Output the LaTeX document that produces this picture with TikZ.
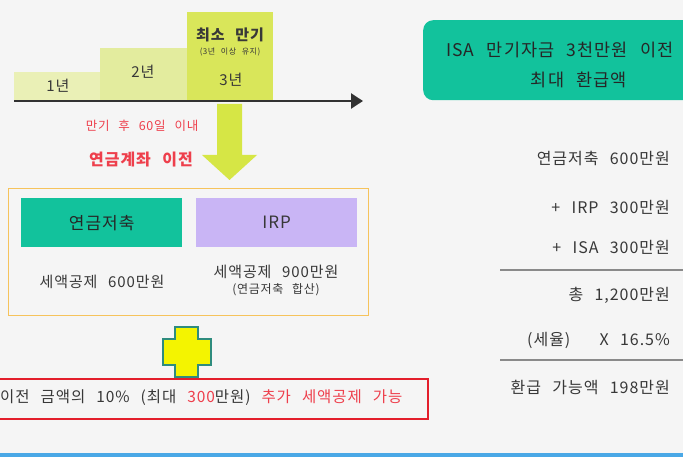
\documentclass[tikz,border=0pt]{standalone}
\usepackage{fontspec}
\setmainfont{Noto Sans CJK KR}[LetterSpace=6,WordSpace=2.5]
\usetikzlibrary{arrows.meta}
\definecolor{bg}{HTML}{F5F5F5}
\definecolor{stepA}{HTML}{EAF0B6}
\definecolor{stepB}{HTML}{E3EC9E}
\definecolor{stepC}{HTML}{D9E65A}
\definecolor{lime}{HTML}{D6E645}
\definecolor{teal}{HTML}{12C29C}
\definecolor{purp}{HTML}{C9B5F5}
\definecolor{orng}{HTML}{F6C35C}
\definecolor{redb}{HTML}{E31E2B}
\definecolor{redt}{HTML}{EE3F4C}
\definecolor{txt}{HTML}{383838}
\definecolor{gline}{HTML}{8A8A8A}
\definecolor{blu}{HTML}{4AA8E6}
\definecolor{crossY}{HTML}{F4F400}
\definecolor{crossO}{HTML}{2E8C7E}
\tikzset{
  lbl/.style={inner sep=0pt, text=txt, font=\fontsize{15}{17}\selectfont},
  stepbox/.style={inner sep=0pt, anchor=north west},
  colbox/.style={inner sep=0pt, anchor=north west, minimum width=161pt, minimum height=49pt},
  rlist/.style={inner sep=0pt, anchor=east, text=txt, font=\fontsize{16}{18}\selectfont},
}
\begin{document}
\begin{tikzpicture}[x=1pt,y=-1pt]
\useasboundingbox (0,0) rectangle (683,457);
\fill[bg] (0,0) rectangle (683,457);
\clip (0,0) rectangle (683,457);
% timeline steps
\node[stepbox, fill=stepA, minimum width=86pt, minimum height=29pt] (s1) at (14,72) {};
\node[stepbox, fill=stepB, minimum width=87pt, minimum height=53pt] (s2) at (100,48) {};
\node[stepbox, fill=stepC, minimum width=86pt, minimum height=89pt] (s3) at (187,12) {};
\node[lbl] (t1) at (58,86) {1년};
\node[lbl] (t2) at (143,72) {2년};
\node[lbl] (t3) at (231,80) {3년};
\node[lbl, font=\fontsize{15}{17}\selectfont\bfseries] (t3a) at (230,35) {최소 만기};
\node[lbl, font=\fontsize{8}{9}\selectfont] (t3b) at (230,52) {(3년 이상 유지)};
% timeline arrow
\coordinate (tl0) at (14,101);
\coordinate (tl1) at (363,101);
\draw[line width=2.6pt, draw=txt!90!black, -{Triangle[length=12pt,width=15pt]}] (tl0) -- (tl1);
% down arrow
\fill[lime] (217,104) -- (242,104) -- (242,155) -- (257,155) -- (229.5,180) -- (202,155) -- (217,155) -- cycle;
\node[lbl, text=redt, font=\fontsize{12.5}{14}\selectfont] (m1) at (142,126) {만기 후 60일 이내};
\node[lbl, text=redt, font=\fontsize{16}{18}\selectfont\bfseries] (m2) at (141,160) {연금계좌 이전};
% orange box
\node[stepbox, draw=orng, line width=1.4pt, minimum width=360pt, minimum height=127pt] (ob) at (8,188) {};
\node[colbox, fill=teal] (pb) at (21,198) {};
\node[colbox, fill=purp] (ib) at (196,198) {};
\node[lbl, text=black!85, font=\fontsize{17}{19}\selectfont] at (pb.center) {연금저축};
\node[lbl, text=txt, font=\fontsize{17}{19}\selectfont] at (ib.center) {IRP};
\node[lbl] (d1) at (102,282) {세액공제 600만원};
\node[lbl] (d2) at (276,272) {세액공제 900만원};
\node[lbl, font=\fontsize{12}{14}\selectfont] (d3) at (276,290) {(연금저축 합산)};
% cross
\filldraw[fill=crossY, draw=crossO, line width=1.3pt]
  (175,327) -- (198,327) -- (198,339) -- (211,339) -- (211,365) -- (198,365) -- (198,377)
  -- (175,377) -- (175,365) -- (163,365) -- (163,339) -- (175,339) -- cycle;
% red box
\node[stepbox, draw=redb, line width=2.2pt, minimum width=437pt, minimum height=40pt] (rb) at (-10,378) {};
\node[lbl, anchor=west, font=\fontsize{15.5}{17}\selectfont] (rt) at (0,398)
  {이전 금액의 10\% (최대 \textcolor{redt}{300}만원) \textcolor{redt}{추가 세액공제 가능}};
% right side title
\node[stepbox, fill=teal, rounded corners=10pt, minimum width=290pt, minimum height=80pt] (tb) at (423,20) {};
\node[lbl, text=black!85, font=\fontsize{17.5}{19}\selectfont, anchor=west] (h1) at (446,50) {ISA 만기자금 3천만원 이전};
\node[lbl, text=black!85, font=\fontsize{17.5}{19}\selectfont] (h2) at (579,80) {최대 환급액};
% right list
\node[rlist] (r1) at (670,158) {연금저축 600만원};
\node[rlist] (r2) at (670,207) {+ IRP 300만원};
\node[rlist] (r3) at (670,247) {+ ISA 300만원};
\coordinate (la0) at (500,270); \coordinate (la1) at (683,270);
\draw[gline, line width=1.6pt] (la0) -- (la1);
\node[rlist] (r4) at (670,295) {총 1,200만원};
\node[rlist, anchor=west] (r5) at (527,340) {(세율)};
\node[rlist] (r6) at (670,340) {X 16.5\%};
\coordinate (lb0) at (500,360); \coordinate (lb1) at (683,360);
\draw[gline, line width=1.6pt] (lb0) -- (lb1);
\node[rlist] (r7) at (670,387) {환급 가능액 198만원};
% bottom blue line
\fill[blu] (0,453) rectangle (683,457);
\end{tikzpicture}
\end{document}
